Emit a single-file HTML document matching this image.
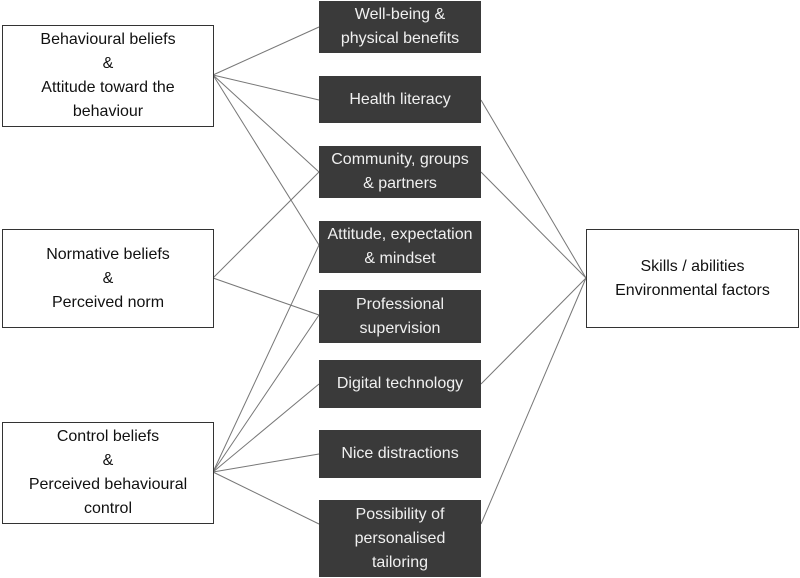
<!DOCTYPE html>
<html><head><style>
body{margin:0;background:#fff;}
.w{position:relative;width:800px;height:578px;font-family:"Liberation Sans",sans-serif;font-size:16px;}
.b{position:absolute;box-sizing:border-box;display:flex;align-items:center;justify-content:center;text-align:center;line-height:24px;}
.l{border:1.5px solid #333;background:#fff;color:#111;}
.m{background:#3a3a3a;color:#f0f0f0;left:319px;width:162px;}
svg{position:absolute;left:0;top:0;}
</style></head><body><div class="w">
<svg width="800" height="578"><g stroke="#777" stroke-width="1" fill="none">
<line x1="213" y1="75" x2="319" y2="27"/><line x1="213" y1="75" x2="319" y2="100"/><line x1="213" y1="75" x2="319" y2="172"/><line x1="213" y1="75" x2="319" y2="245"/>
<line x1="213" y1="278" x2="319" y2="172"/><line x1="213" y1="278" x2="319" y2="315"/>
<line x1="213" y1="472" x2="319" y2="245"/><line x1="213" y1="472" x2="319" y2="315"/><line x1="213" y1="472" x2="319" y2="384"/><line x1="213" y1="472" x2="319" y2="454"/><line x1="213" y1="472" x2="319" y2="524"/>
<line x1="481" y1="100" x2="586" y2="278"/><line x1="481" y1="172" x2="586" y2="278"/><line x1="481" y1="384" x2="586" y2="278"/><line x1="481" y1="524" x2="586" y2="278"/>
</g></svg>
<div class="b l" style="left:2px;top:25px;width:212px;height:102px">Behavioural beliefs<br>&amp;<br>Attitude toward the<br>behaviour</div>
<div class="b l" style="left:2px;top:229px;width:212px;height:99px">Normative beliefs<br>&amp;<br>Perceived norm</div>
<div class="b l" style="left:2px;top:422px;width:212px;height:102px">Control beliefs<br>&amp;<br>Perceived behavioural<br>control</div>
<div class="b l" style="left:586px;top:229px;width:213px;height:99px">Skills / abilities<br>Environmental factors</div>
<div class="b m" style="top:1px;height:52px">Well-being &amp;<br>physical benefits</div>
<div class="b m" style="top:76px;height:47px">Health literacy</div>
<div class="b m" style="top:146px;height:52px">Community, groups<br>&amp; partners</div>
<div class="b m" style="top:221px;height:52px">Attitude, expectation<br>&amp; mindset</div>
<div class="b m" style="top:290px;height:53px">Professional<br>supervision</div>
<div class="b m" style="top:360px;height:48px">Digital technology</div>
<div class="b m" style="top:430px;height:48px">Nice distractions</div>
<div class="b m" style="top:500px;height:77px">Possibility of<br>personalised<br>tailoring</div>
</div></body></html>
